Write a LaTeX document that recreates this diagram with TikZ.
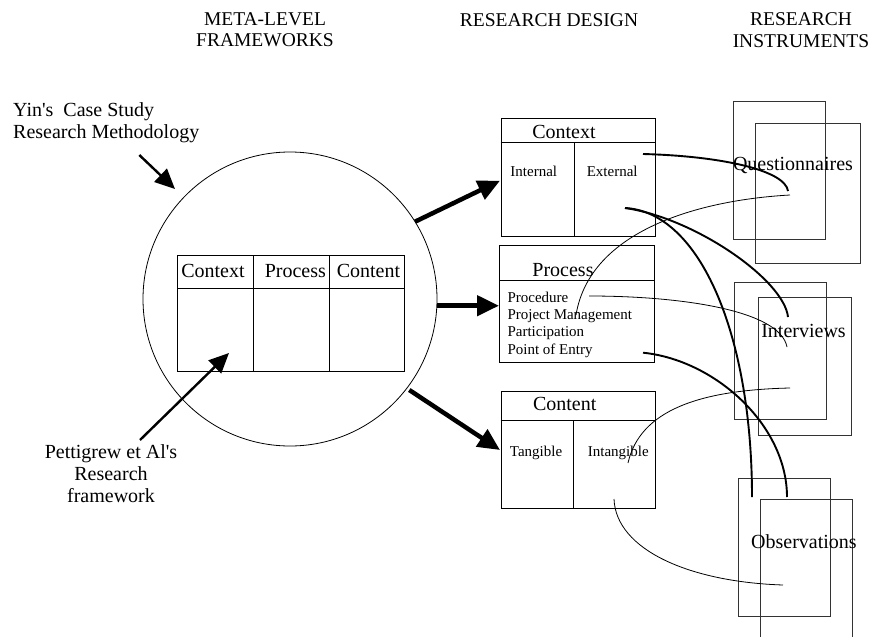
\documentclass[tikz,border=0pt]{standalone}
\usepackage{fontspec}
\setmainfont{Liberation Serif}
\usetikzlibrary{arrows.meta}

\begin{document}
\begin{tikzpicture}[x=1pt,y=-1pt,
  box/.style={draw, line width=0.9pt, inner sep=0pt, anchor=north west},
  inst/.style={draw=black!80, line width=0.8pt, inner sep=0pt, anchor=north west},
  big/.style={font=\fontsize{20}{22}\selectfont, inner sep=0pt, anchor=base},
  small/.style={font=\fontsize{15}{17}\selectfont, inner sep=0pt, anchor=base},
  head/.style={font=\fontsize{19.5}{21.5}\selectfont, inner sep=0pt, anchor=base},
  pointer/.style={line width=2.4pt, -{Triangle[length=20pt,width=18pt]}},
  flow/.style={line width=4.5pt, -{Triangle[length=22pt,width=20pt]}},
  strong/.style={line width=1.9pt},
  weak/.style={line width=0.8pt},
]
\useasboundingbox (0,0) rectangle (876,637);

% column headings
\node[head] (h1a) at (265,25) {META-LEVEL};
\node[head] (h1b) at (265,46.7) {FRAMEWORKS};
\node[head] (h2) at (549,26) {RESEARCH DESIGN};
\node[head] (h3a) at (801,25) {RESEARCH};
\node[head] (h3b) at (801,47) {INSTRUMENTS};

% meta-level frameworks
\node[big, anchor=base west] (yin1) at (13,116.7) {Yin\textquotesingle s\ \ Case Study};
\node[big, anchor=base west] (yin2) at (13,138) {Research Methodology};
\node[draw, circle, line width=0.8pt, minimum size=294pt, inner sep=0pt] (meta) at (290,299) {};

\node[box, minimum width=227pt, minimum height=116pt] (pp) at (177,255) {};
\draw[line width=0.9pt] (177,288) -- (404,288);
\draw[line width=0.9pt] (253,255) -- (253,371);
\draw[line width=0.9pt] (329,255) -- (329,371);
\node[big] (ppA) at (213,277.7) {Context};
\node[big] (ppB) at (295.3,277.7) {Process};
\node[big] (ppC) at (368.5,277.7) {Content};

\node[big] (pet1) at (111,458) {Pettigrew et Al\textquotesingle s};
\node[big] (pet2) at (111,480) {Research};
\node[big] (pet3) at (111,502) {framework};

\coordinate (yinTail) at (139.3,155);
\coordinate (yinTip) at (175,189);
\draw[pointer] (yinTail) -- (yinTip);
\coordinate (petTail) at (140,440);
\coordinate (petTip) at (229,353);
\draw[pointer] (petTail) -- (petTip);

% research design
\node[box, minimum width=154pt, minimum height=117.4pt] (ctx) at (500.7,118.3) {};
\draw[line width=0.9pt] (500.7,142.3) -- (654.7,142.3);
\draw[line width=0.9pt] (574,142.3) -- (574,235.7);
\node[big] (ctxT) at (564,138.3) {Context};
\node[small] (ctxI) at (533.8,176.3) {Internal};
\node[small] (ctxE) at (612.2,176.7) {External};

\node[box, minimum width=154.7pt, minimum height=116.7pt] (prc) at (499.3,245) {};
\draw[line width=0.9pt] (499.3,280.7) -- (654,280.7);
\node[big] (prcT) at (563,276.7) {Process};
\node[small, anchor=base west] (prc1) at (507.3,302.5) {Procedure};
\node[small, anchor=base west] (prc2) at (507.3,319.7) {Project Management};
\node[small, anchor=base west] (prc3) at (507.3,336.9) {Participation};
\node[small, anchor=base west] (prc4) at (507.3,354.1) {Point of Entry};

\node[box, minimum width=154pt, minimum height=117.3pt] (cnt) at (500.7,390.7) {};
\draw[line width=0.9pt] (500.7,420.3) -- (654.7,420.3);
\draw[line width=0.9pt] (573,420.3) -- (573,508);
\node[big] (cntT) at (564.7,410.7) {Content};
\node[small] (cntA) at (536,456) {Tangible};
\node[small] (cntB) at (618.3,456) {Intangible};

\coordinate (m1) at (415,221.7);
\coordinate (d1) at (500,180.7);
\coordinate (m2) at (436.7,305.7);
\coordinate (d2) at (499,305.7);
\coordinate (m3) at (409.3,390);
\coordinate (d3) at (500,450);
\draw[flow] (m1) -- (d1);
\draw[flow] (m2) -- (d2);
\draw[flow] (m3) -- (d3);

% research instruments
\node[inst, minimum width=92pt, minimum height=138pt] (qA) at (733,101) {};
\node[inst, minimum width=105pt, minimum height=140pt] (qB) at (755,122.7) {};
\node[big] (qT) at (793,170) {Questionnaires};

\node[inst, minimum width=92pt, minimum height=137.6pt] (iA) at (734,281.7) {};
\node[inst, minimum width=93pt, minimum height=138.3pt] (iB) at (758,296.7) {};
\node[big] (iT) at (803.5,337.3) {Interviews};

\node[inst, minimum width=92pt, minimum height=138.3pt] (oA) at (738,477.7) {};
\draw[draw=black!80, line width=0.8pt] (760,640) -- (760,499.3) -- (852,499.3) -- (852,640);
\node[big] (oT) at (804,548.3) {Observations};

% links between design elements and instruments
\coordinate (s1) at (643,154);
\coordinate (e1) at (788,191);
\coordinate (s2) at (625,208);
\coordinate (e2) at (752,497);
\coordinate (e3) at (788,317);
\coordinate (s4) at (643,352.7);
\coordinate (e4) at (787,497);
\draw[strong] (s1) .. controls (720,156) and (785,170) .. (e1);
\draw[strong] (s2) .. controls (700,212) and (752,335) .. (e2);
\draw[strong] (s2) .. controls (695,218) and (784,280) .. (e3);
\draw[strong] (s4) .. controls (715,360) and (787,425) .. (e4);

\coordinate (w1) at (576,315);
\coordinate (f1) at (790,195);
\coordinate (w2) at (589,296);
\coordinate (f2) at (787,347);
\coordinate (w3) at (628,463);
\coordinate (f3) at (790,388);
\coordinate (w4) at (614,499);
\coordinate (f4) at (783,585);
\draw[weak] (w1) .. controls (590,230) and (700,200) .. (f1);
\draw[weak] (w2) .. controls (680,296) and (780,310) .. (f2);
\draw[weak] (w3) .. controls (640,410) and (700,390) .. (f3);
\draw[weak] (w4) .. controls (616,550) and (690,582) .. (f4);
\end{tikzpicture}
\end{document}
